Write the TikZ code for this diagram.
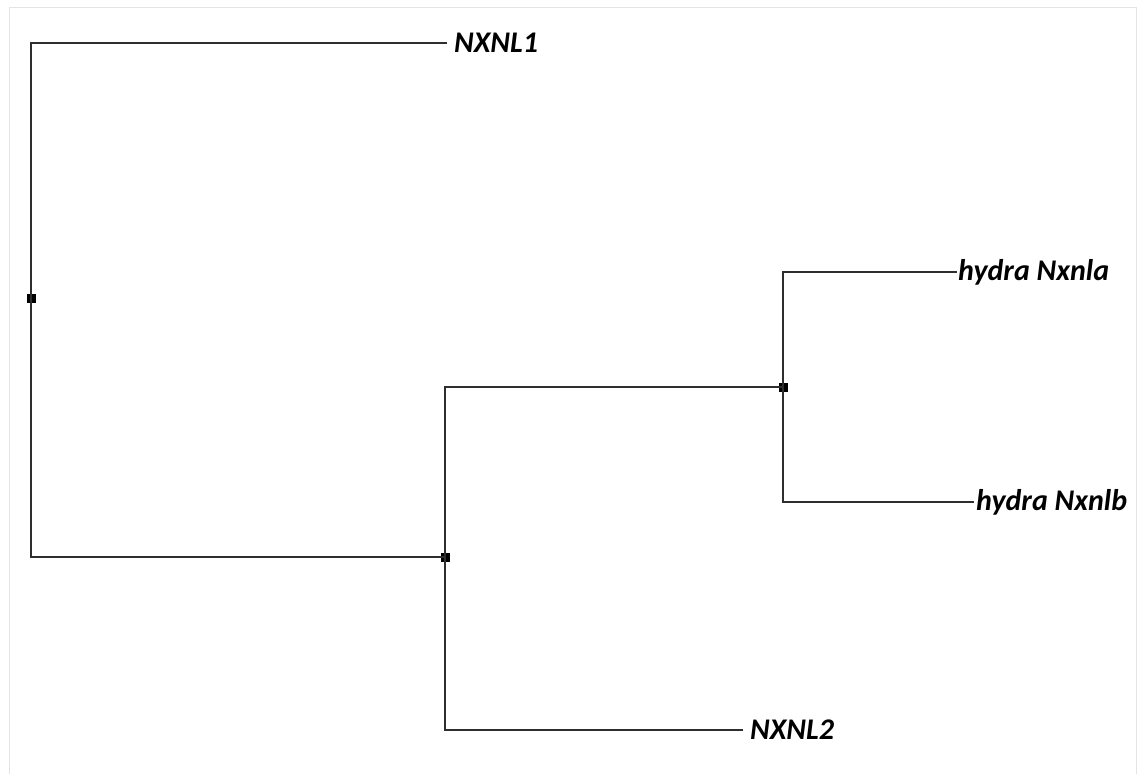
\documentclass[tikz,border=0pt]{standalone}
\usepackage{fontspec}
\setmainfont{Carlito}
\usetikzlibrary{positioning}
\definecolor{trline}{HTML}{2E2E2E}
\definecolor{trframe}{HTML}{E4E4E4}

\begin{document}
\begin{tikzpicture}[x=1pt, y=1pt, font=\fontsize{30}{36}\selectfont\bfseries\itshape,
    nodo/.style={fill=black, inner sep=0pt, minimum size=9pt},
    foglia/.style={anchor=west, inner ysep=0pt, text=black},
    ramo/.style={draw=trline, line width=2.4pt, line join=miter}]
      \useasboundingbox (0,0) rectangle (1138,-774);
      % cornice
      \draw[trframe, line width=1pt] (9.5,-774) -- (9.5,-7) -- (1136.5,-7) -- (1136.5,-774);
      % nodi interni
      \node[nodo] (root) at (31,-298) {};
      \node[nodo] (n2) at (445,-557) {};
      \node[nodo] (n3) at (783,-387) {};
      % foglie
      \node[foglia, inner xsep=7pt] (nxnl1) at (447,-43) {NXNL1};
      \node[foglia, inner xsep=1pt] (nxnla) at (957,-272) {hydra Nxnla};
      \node[foglia, inner xsep=2pt] (nxnlb) at (974,-502) {hydra Nxnlb};
      \node[foglia, inner xsep=7pt] (nxnl2) at (743,-730) {NXNL2};
      % rami
      \path[ramo] (root.center) |- (nxnl1.west);
      \path[ramo] (root.center) |- (n2.center);
      \path[ramo] (n2.center) |- (n3.center);
      \path[ramo] (n2.center) |- (nxnl2.west);
      \path[ramo] (n3.center) |- (nxnla.west);
      \path[ramo] (n3.center) |- (nxnlb.west);
    \end{tikzpicture}
\end{document}
